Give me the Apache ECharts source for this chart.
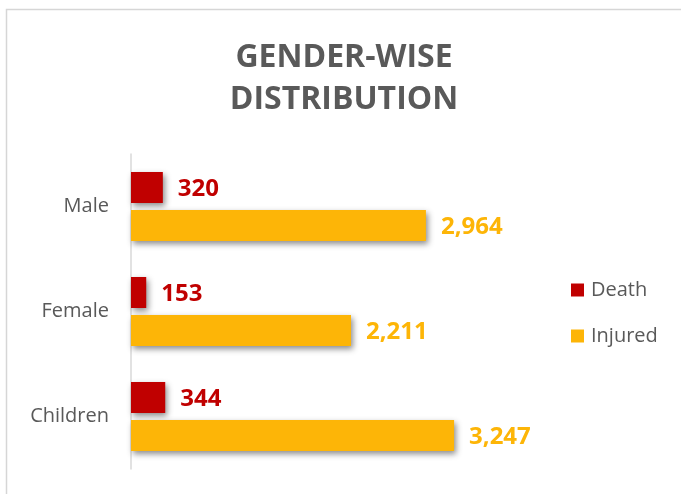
<!DOCTYPE html>
<html><head><meta charset="utf-8">
<script src="https://cdn.jsdelivr.net/npm/echarts@6/dist/echarts.min.js"></script>
<style>html,body{margin:0;padding:0;background:#fff}#c{width:681px;height:494px}</style>
</head><body><div id="c"></div>
<script>
var categories = ['Male', 'Female', 'Children'];
var deathValues = [320, 153, 344];
var injuredValues = [2964, 2211, 3247];
var seriesNames = ['Death', 'Injured'];

var chart = echarts.init(document.getElementById('c'));
var font = 'Open Sans';
var shadow = {shadowColor: 'rgba(0,0,0,0.45)', shadowBlur: 6, shadowOffsetX: 2, shadowOffsetY: 3};
function fmt(p){ return p.value.toLocaleString('en-US'); }
chart.setOption({
  animation: false,
  backgroundColor: '#fff',
  graphic: [{
    type: 'rect', shape: {x: 6.5, y: 9.5, width: 720, height: 520},
    style: {fill: 'none', stroke: '#d6d6d6', lineWidth: 1.5}, silent: true
  }],
  title: {
    text: 'GENDER-WISE\nDISTRIBUTION', left: 344, top: 37, padding: 0, textAlign: 'center',
    textStyle: {fontFamily: font, fontWeight: 'bold', fontSize: 32, color: '#595959', lineHeight: 42}
  },
  legend: {
    orient: 'vertical', left: 571, top: 280, padding: 0, itemWidth: 13, itemHeight: 13, itemGap: 26,
    icon: 'rect',
    textStyle: {fontFamily: font, fontSize: 20, color: '#595959', padding: [0,0,0,2]},
    data: seriesNames
  },
  grid: {left: 131, top: 154, width: 398, height: 315, containLabel: false},
  xAxis: {type: 'value', min: 0, max: 4000, show: false},
  yAxis: {
    type: 'category', data: categories, inverse: true,
    axisLine: {show: true, lineStyle: {color: '#d9d9d9', width: 1.5}},
    axisTick: {show: false},
    axisLabel: {fontFamily: font, fontSize: 20, color: '#595959', margin: 22, padding: [5,0,0,0]}
  },
  series: [{
    name: seriesNames[0], type: 'bar', data: deathValues, barWidth: 31, barGap: '22.6%',
    itemStyle: Object.assign({color: '#C00000'}, shadow),
    label: {show: true, position: 'right', distance: 15, formatter: fmt, offset: [0, 2],
      fontFamily: font, fontWeight: 'bold', fontSize: 24, color: '#C00000'}
  }, {
    name: seriesNames[1], type: 'bar', data: injuredValues, barWidth: 31,
    itemStyle: Object.assign({color: '#FDB507'}, shadow),
    label: {show: true, position: 'right', distance: 15, formatter: fmt, offset: [0, 2],
      fontFamily: font, fontWeight: 'bold', fontSize: 24, color: '#FDB507'}
  }]
});
</script></body></html>
